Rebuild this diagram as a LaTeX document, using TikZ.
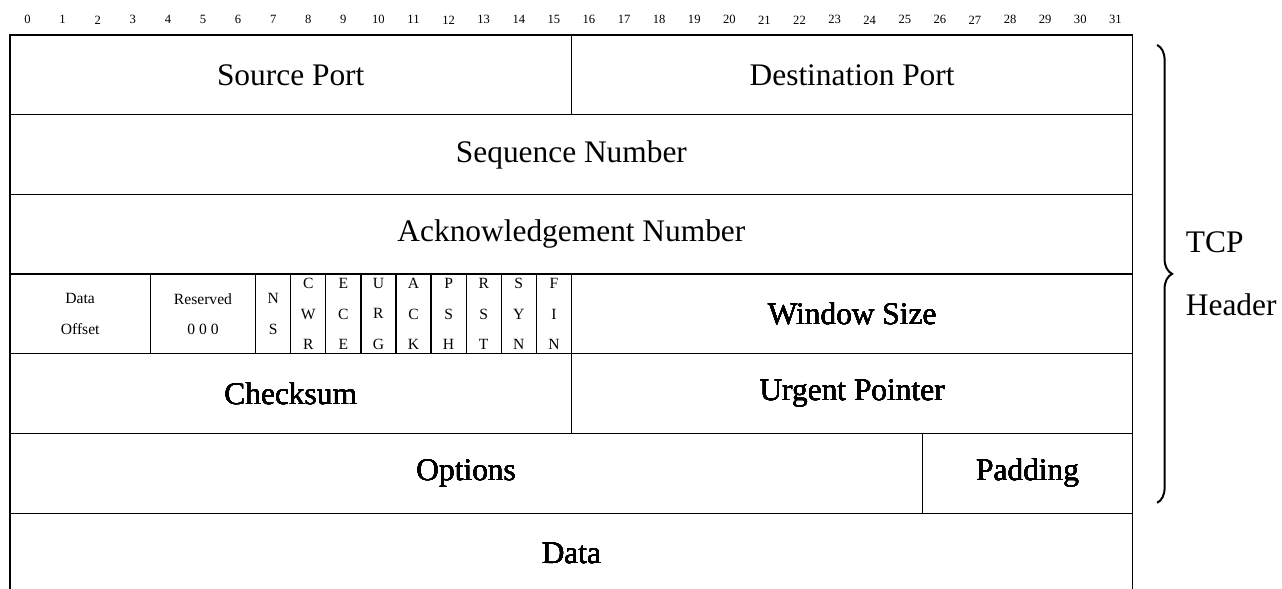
\documentclass[tikz,border=0pt]{standalone}
\usepackage{fontspec}
\setmainfont{Liberation Serif}
\usetikzlibrary{decorations.pathreplacing}
\tikzset{field/.style = {draw, line width=0.6pt, inner sep=0, minimum height=39.85pt, font=\fontsize{15.7pt}{19pt}\selectfont}}
\tikzset{flag/.style = {field, align=center, font=\fontsize{7.8pt}{15.2pt}\selectfont}}
\tikzset{bitnum/.style = {inner sep=0, font=\fontsize{6.3pt}{7pt}\selectfont}}
% one header field: [style]{name}{first bit}{bits}{row}{text}
\newcommand{\tcpfield}[6][field]{\node[#1, minimum width=#4*17.545pt] (#2) at ({#3+#4/2},{#5+0.5}) {#6};}

\begin{document}
\begin{tikzpicture}[x=17.545pt, y=-39.85pt]
        \useasboundingbox (-0.285,-0.439) rectangle (36.25,6.94);
        % bit numbers
        \foreach \b in {0,...,31}
            \node[bitnum] (bit\b) at (\b+0.5,-0.19) {\b};
        \tcpfield{srcport}{0}{16}{0}{Source Port}
        \tcpfield{dstport}{16}{16}{0}{Destination Port}
        \tcpfield{seqnum}{0}{32}{1}{Sequence Number}
        \tcpfield{acknum}{0}{32}{2}{Acknowledgement Number}
        \tcpfield[flag]{offset}{0}{4}{3}{Data\\Offset}
        \tcpfield[flag]{reserved}{4}{3}{3}{Reserved\\0 0 0}
        \tcpfield[flag]{ns}{7}{1}{3}{N\\S}
        \foreach \f [count=\i from 8] in {{C\\W\\R},{E\\C\\E},{U\\R\\G},{A\\C\\K},{P\\S\\H},{R\\S\\T},{S\\Y\\N},{F\\I\\N}}
            \tcpfield[flag]{flag\i}{\i}{1}{3}{\f}
        \tcpfield{window}{16}{16}{3}{Window Size}
        \tcpfield{checksum}{0}{16}{4}{Checksum}
        \tcpfield{urgent}{16}{16}{4}{Urgent Pointer}
        \tcpfield{options}{0}{26}{5}{Options}
        \tcpfield{padding}{26}{6}{5}{Padding}
        \tcpfield{data}{0}{32}{6}{Data}
        % brace over the header rows
        \coordinate (braceTop) at (32.69,0.125);
        \coordinate (braceBot) at (32.69,5.87);
        \draw [decorate, decoration={brace, amplitude=7.5pt}, line width=1pt] (braceTop) -- (braceBot);
        \node [anchor=west, align=left, inner sep=0, font=\fontsize{15.7pt}{31.5pt}\selectfont] (hdr) at (33.5,3.0) {TCP\\Header};
    \end{tikzpicture}
\end{document}
